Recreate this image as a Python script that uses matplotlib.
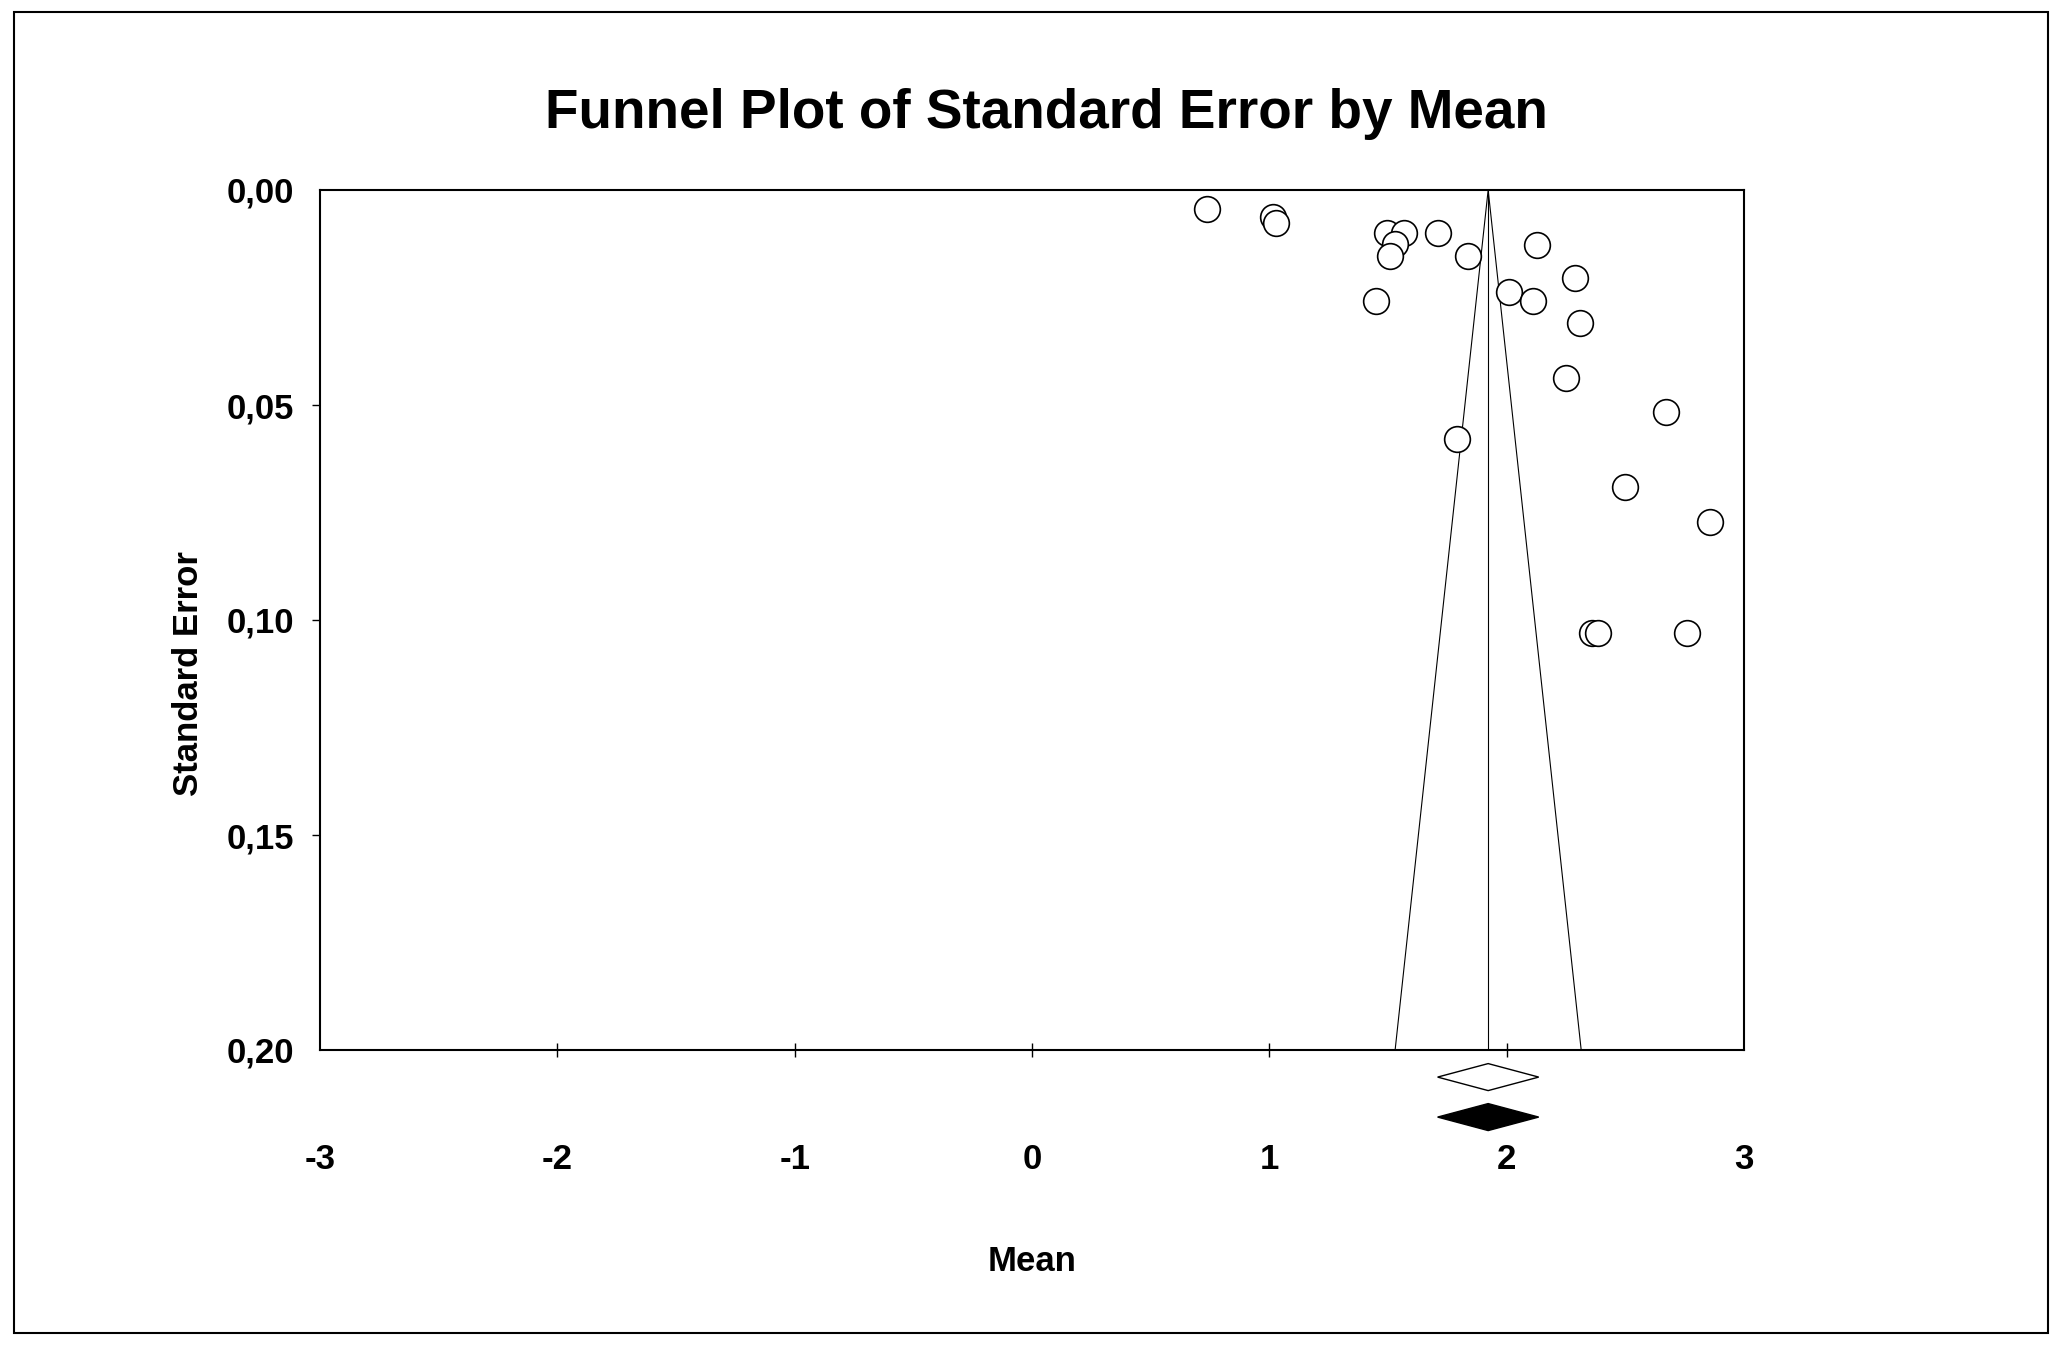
import numpy as np
import matplotlib
matplotlib.use("Agg")
import matplotlib.pyplot as plt
from matplotlib.patches import Polygon, Rectangle
from matplotlib.ticker import FuncFormatter

plt.rcParams['font.family'] = ['Liberation Sans', 'DejaVu Sans']
plt.rcParams['font.weight'] = 'bold'
plt.rcParams['axes.unicode_minus'] = False

# study effects (mean) and their standard errors
means = [0.738, 1.017, 1.029, 1.497, 1.569, 1.530, 1.507, 1.709, 1.839,
         2.129, 2.289, 2.009, 2.109, 1.448, 2.308, 2.249, 2.670, 1.790,
         2.499, 2.858, 2.359, 2.383, 2.761]
std_errs = [0.0045, 0.0062, 0.0077, 0.0101, 0.0101, 0.0126, 0.0153, 0.0101,
            0.0153, 0.0127, 0.0205, 0.0237, 0.0257, 0.0257, 0.0309, 0.0437,
            0.0516, 0.0580, 0.0691, 0.0773, 0.1031, 0.1031, 0.1031]

pooled_mean = 1.922
pooled_lo = 1.709
pooled_hi = 2.135
# imputed (filled) estimate, same as observed here
filled_mean = 1.922
filled_lo = 1.709
filled_hi = 2.135

x_ticks = [-3, -2, -1, 0, 1, 2, 3]
y_ticks = [0.00, 0.05, 0.10, 0.15, 0.20]
se_max = 0.20

fig = plt.figure(figsize=(20.62, 13.5), dpi=100)
ax = fig.add_axes([320 / 2062, 1 - 1050 / 1350, 1424 / 2062, 860 / 1350])

ax.plot(means, std_errs, 'o', ms=18.5, mfc='white', mec='black', mew=1.2,
        linestyle='none', zorder=3)

# funnel + mean line
ax.plot([pooled_mean - 1.96 * se_max, pooled_mean, pooled_mean + 1.96 * se_max],
        [se_max, 0, se_max], color='black', lw=0.8, zorder=2)
ax.plot([pooled_mean, pooled_mean], [0, se_max], color='black', lw=0.8, zorder=2)

ax.set_xlim(-3, 3)
ax.set_ylim(se_max, 0)
ax.set_xticks(x_ticks)
ax.set_yticks(y_ticks)
ax.yaxis.set_major_formatter(FuncFormatter(lambda v, p: f"{v:.2f}".replace('.', ',')))

ax.tick_params(axis='x', direction='inout', length=10, width=1, pad=62,
               labelsize=25)
ax.tick_params(axis='y', direction='out', length=5.8, width=1, pad=13,
               labelsize=25)
for t in (ax.xaxis.get_major_ticks()[0], ax.xaxis.get_major_ticks()[-1],
          ax.yaxis.get_major_ticks()[0], ax.yaxis.get_major_ticks()[-1]):
    t.tick1line.set_visible(False)
for s in ax.spines.values():
    s.set_linewidth(1.5)

# diamonds below the axis
def diamond(yc, m, lo, hi, face):
    h = 0.00314
    pts = [(lo, yc), (m, yc - h), (hi, yc), (m, yc + h)]
    ax.add_patch(Polygon(pts, closed=True, facecolor=face, edgecolor='black',
                         lw=1.0, clip_on=False, zorder=4))

diamond(0.2063, pooled_mean, pooled_lo, pooled_hi, 'white')
diamond(0.2156, filled_mean, filled_lo, filled_hi, 'black')

fig.text(1046 / 2062, 1 - 128 / 1350, "Funnel Plot of Standard Error by Mean",
         ha='center', va='baseline', fontsize=39.5, fontweight='bold')
fig.text(1032 / 2062, 1 - 1271 / 1350, "Mean", ha='center', va='baseline',
         fontsize=25, fontweight='bold')
fig.text(188 / 2062, 1 - 674 / 1350, "Standard Error", ha='center', va='center',
         rotation=90, fontsize=25, fontweight='bold')

fig.patches.append(Rectangle((14 / 2062, 1 - 1333 / 1350), 2034 / 2062, 1321 / 1350,
                             transform=fig.transFigure, fill=False,
                             edgecolor='black', lw=1.5))

fig.savefig("out.png", dpi=100)
